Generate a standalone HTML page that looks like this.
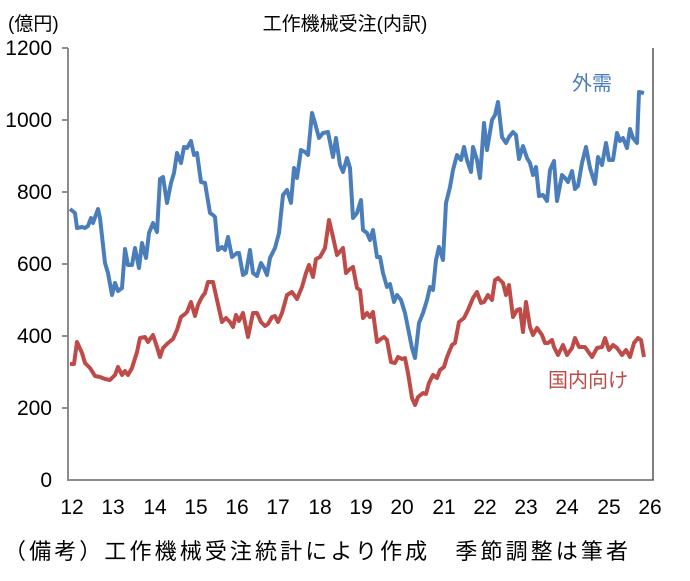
<!DOCTYPE html>
<html><head><meta charset="utf-8"><style>
body{margin:0;background:#fff;}
svg text{font-family:"Liberation Sans","Noto Sans CJK JP",sans-serif;fill:#000;}
</style></head><body>
<svg width="690" height="576" viewBox="0 0 690 576" xmlns="http://www.w3.org/2000/svg">
<rect width="690" height="576" fill="#fff"/>
<text x="345" y="30" font-size="19" text-anchor="middle">工作機械受注(内訳)</text>
<text x="8" y="30" font-size="19">(億円)</text>
<g stroke="#8c8c8c" stroke-width="2" fill="none">
<line x1="68" y1="48" x2="68" y2="481"/>
<line x1="67" y1="480" x2="654" y2="480"/>
<line x1="653" y1="48" x2="653" y2="480" stroke="#555" stroke-width="1.5"/>
<line x1="62" y1="48" x2="68" y2="48"/><line x1="62" y1="120" x2="68" y2="120"/><line x1="62" y1="192" x2="68" y2="192"/><line x1="62" y1="264" x2="68" y2="264"/><line x1="62" y1="336" x2="68" y2="336"/><line x1="62" y1="408" x2="68" y2="408"/>
</g>
<g font-size="21" text-anchor="end">
<text x="52" y="55">1200</text><text x="52" y="127">1000</text><text x="52" y="199">800</text><text x="52" y="271">600</text><text x="52" y="343">400</text><text x="52" y="415">200</text><text x="52" y="487">0</text>
</g>
<g font-size="21" text-anchor="middle">
<text x="72" y="514">12</text><text x="113" y="514">13</text><text x="155" y="514">14</text><text x="196" y="514">15</text><text x="237" y="514">16</text><text x="278" y="514">17</text><text x="320" y="514">18</text><text x="361" y="514">19</text><text x="402" y="514">20</text><text x="444" y="514">21</text><text x="485" y="514">22</text><text x="526" y="514">23</text><text x="567" y="514">24</text><text x="609" y="514">25</text><text x="650" y="514">26</text>
</g>
<text x="4" y="559" font-size="22" textLength="624" lengthAdjust="spacing">（備考）工作機械受注統計により作成　季節調整は筆者</text>
<polyline fill="none" stroke="#4a7ebb" stroke-width="4" stroke-linejoin="round" points="70,209 75,213 77,228 82,227 85,228 88,226 91,218 93,223 98,209 100,218 105,263 108,273 112,295 115,283 118,291 122,288 125,249 128,265 132,265 135,248 139,268 142,243 146,258 149,233 153,223 157,232 160,179 163,177 167,203 171,183 174,173 177,153 181,163 184,147 187,148 191,141 194,155 197,153 201,182 205,183 210,213 213,215 215,217 218,250 222,247 225,250 228,237 232,257 237,253 239,253 243,275 246,273 250,250 253,273 257,276 261,263 264,268 267,275 270,258 275,248 279,233 283,195 287,190 291,203 294,168 297,178 301,150 305,152 308,155 312,113 315,123 319,138 323,133 328,132 333,157 336,138 340,165 343,172 347,158 350,168 353,218 357,213 361,200 363,230 367,233 370,240 373,230 377,257 380,257 383,273 387,287 390,284 394,302 397,295 401,300 405,313 409,333 412,348 415,358 419,323 423,313 427,300 430,287 433,290 436,260 439,247 443,260 446,203 450,187 453,170 457,155 461,160 464,147 467,160 471,172 473,147 477,160 480,178 484,123 487,150 492,120 495,115 498,102 502,137 506,143 509,137 513,132 516,135 519,159 523,146 527,158 530,163 533,175 536,167 539,196 543,195 547,201 550,170 554,161 557,201 562,175 565,178 568,182 572,171 575,189 578,186 582,163 586,147 590,168 595,184 598,157 602,165 606,143 609,160 613,160 617,133 620,141 623,138 627,148 630,129 633,138 637,143 639,92 644,93"/>
<polyline fill="none" stroke="#be4b48" stroke-width="4" stroke-linejoin="round" points="70,364 74,364 77,342 82,353 85,363 90,368 95,376 100,377 105,379 110,380 115,375 118,367 122,375 125,371 128,375 132,368 137,352 140,338 145,337 148,342 153,335 157,347 160,357 163,348 168,343 173,339 177,330 181,317 185,314 187,312 191,302 195,316 198,305 202,297 205,293 208,282 213,282 217,300 222,322 226,318 230,322 233,327 236,315 239,321 243,313 248,337 253,313 257,313 261,322 265,326 268,324 272,317 275,316 278,322 282,313 287,295 292,292 297,299 302,287 306,273 309,265 313,277 316,259 320,257 325,248 329,220 333,237 337,255 343,248 346,273 350,269 353,267 357,288 360,290 363,318 367,313 370,317 373,312 377,342 381,339 384,337 387,340 391,362 395,363 398,357 402,359 405,358 408,373 412,398 415,405 418,397 423,393 426,394 429,383 433,375 437,378 440,370 444,367 447,357 452,345 455,343 459,322 464,318 468,310 473,298 477,292 481,303 484,302 488,295 492,300 495,280 498,278 503,283 506,295 509,285 513,317 517,310 520,309 523,332 526,302 530,327 533,335 537,328 542,335 545,343 548,343 552,340 554,347 558,355 563,345 567,355 572,348 575,338 579,347 585,347 592,357 597,348 602,347 605,338 609,350 613,345 617,348 622,355 626,350 630,357 634,343 638,338 641,340 644,357"/>
<text x="572" y="90" font-size="20" style="fill:#4a7ebb">外需</text>
<text x="548" y="387" font-size="20" style="fill:#be4b48">国内向け</text>
</svg>
</body></html>
